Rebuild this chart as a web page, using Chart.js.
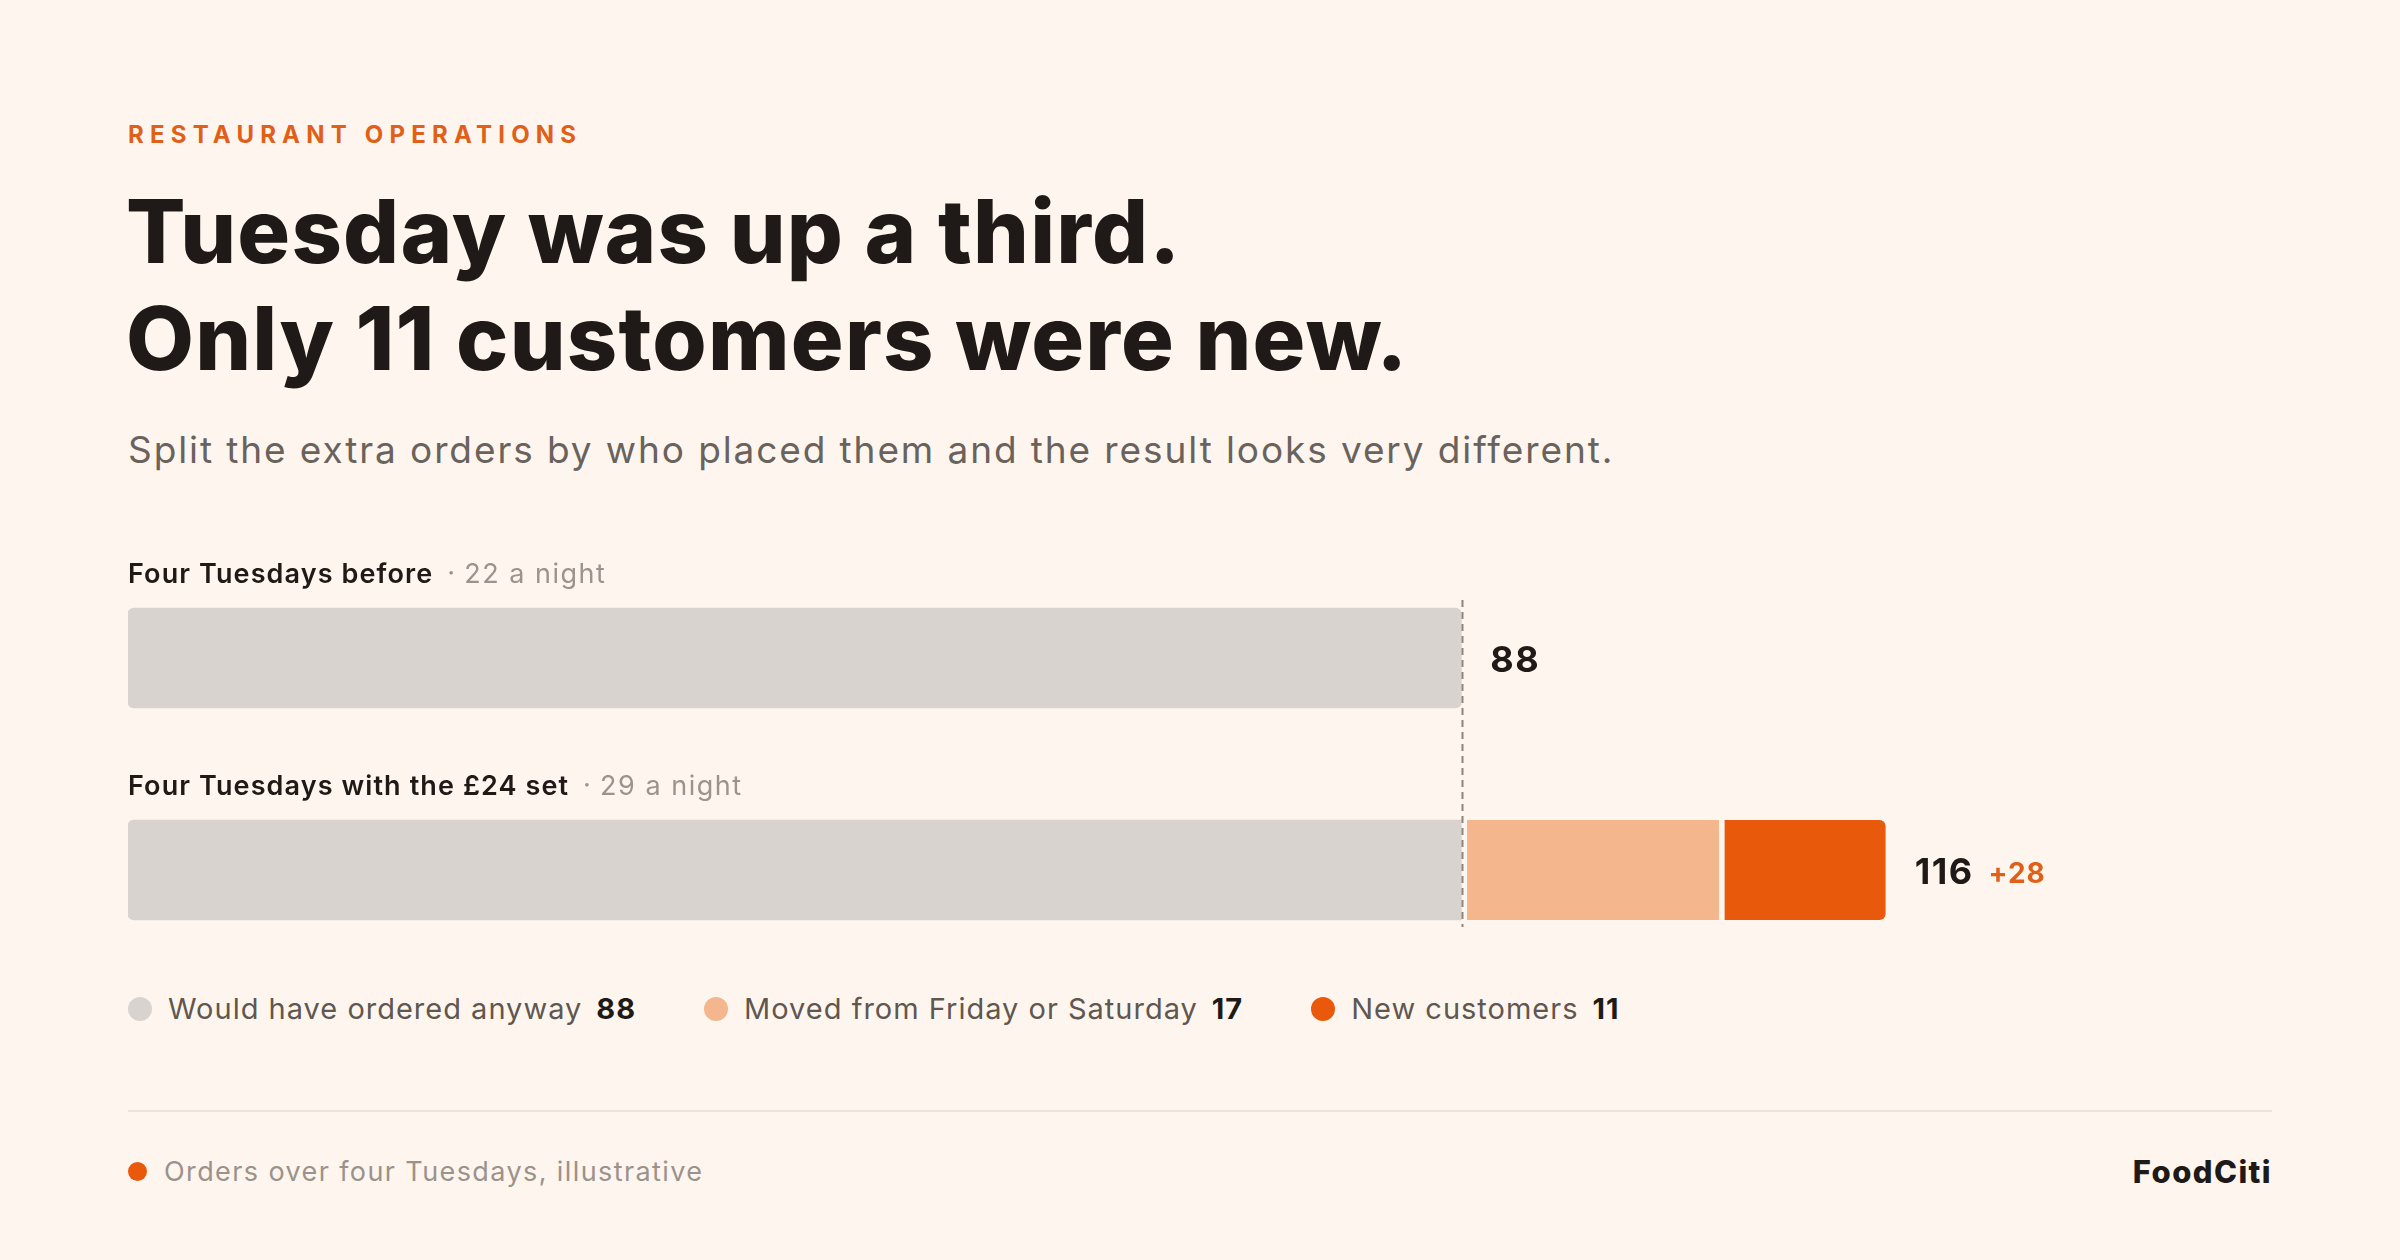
<!DOCTYPE html>
<html>
<head>
<meta charset="utf-8">
<script src="https://cdn.jsdelivr.net/npm/chart.js@4.4.1/dist/chart.umd.min.js"></script>
<style>
  html, body { margin: 0; padding: 0; }
  body {
    width: 2400px; height: 1260px; position: relative; overflow: hidden;
    background: #fef6ee; font-family: Inter, "Noto Sans", sans-serif; color: #1f1a17;
  }
  .kicker {
    position: absolute; left: 128px; top: 120px;
    font-size: 24px; font-weight: 700; letter-spacing: 6.2px; color: #e0601a;
  }
  h1 {
    position: absolute; left: 126px; top: 178px; margin: 0;
    font-size: 88px; font-weight: 800; line-height: 107px; letter-spacing: 1.2px;
  }
  .sub {
    position: absolute; left: 128px; top: 427px;
    font-size: 37px; font-weight: 400; color: #6a625c; letter-spacing: 1.9px;
  }
  #wrap { position: absolute; left: 128px; top: 552px; width: 2144px; height: 424px; }
  #legend {
    position: absolute; left: 128px; top: 991px; display: flex; align-items: center;
    font-size: 29px; color: #5f5750; letter-spacing: 1px;
  }
  .item { display: flex; align-items: center; margin-right: 68px; }
  .dot { width: 24px; height: 24px; border-radius: 50%; margin-right: 16px; }
  .item b { color: #1f1a17; font-weight: 700; margin-left: 14px; }
  .rule { position: absolute; left: 128px; top: 1110px; width: 2144px; height: 2px; background: #ece3da; }
  .foot {
    position: absolute; left: 128px; top: 1155px; display: flex; align-items: center;
    font-size: 27px; color: #9b928b; letter-spacing: 1.4px;
  }
  .foot .dot { width: 19px; height: 19px; margin-right: 17px; background: #e8590c; }
  .brand {
    position: absolute; right: 128px; top: 1153px;
    font-size: 31px; font-weight: 800; color: #1f1a17; letter-spacing: 1.4px;
  }
</style>
</head>
<body>
<div class="kicker">RESTAURANT OPERATIONS</div>
<h1>Tuesday was up a third.<br>Only 11 customers were new.</h1>
<div class="sub">Split the extra orders by who placed them and the result looks very different.</div>
<div id="wrap"><canvas id="chart"></canvas></div>
<div id="legend"></div>
<div class="rule"></div>
<div class="foot"><span class="dot"></span>Orders over four Tuesdays, illustrative</div>
<div class="brand">FoodCiti</div>

<script>
// data
const rows = ['Four Tuesdays before', 'Four Tuesdays with the £24 set'];
const perNight = [22, 29];
const anyway = [88, 88];
const moved = [null, 17];
const newCustomers = [null, 11];
const seriesNames = ['Would have ordered anyway', 'Moved from Friday or Saturday', 'New customers'];
const colors = ['#d8d3cf', '#f3b68d', '#e8590c'];
const BG = '#fef6ee';

// legend built from the same arrays
const legendValues = [anyway[1], moved[1], newCustomers[1]];
document.getElementById('legend').innerHTML = seriesNames.map((n, i) =>
  `<span class="item"><span class="dot" style="background:${colors[i]}"></span>${n}<b>${legendValues[i]}</b></span>`
).join('');

const total = i => (anyway[i] || 0) + (moved[i] || 0) + (newCustomers[i] || 0);

// row labels, totals and the dashed "before" line
const annotate = {
  id: 'annotate',
  afterDatasetsDraw(chart) {
    const { ctx, scales: { x, y } } = chart;
    const half = 50;
    ctx.save();
    rows.forEach((r, i) => {
      const cy = y.getPixelForValue(i);
      // label above bar
      ctx.textBaseline = 'alphabetic';
      ctx.textAlign = 'left';
      ctx.letterSpacing = '1.1px';
      ctx.font = '600 27px Inter';
      ctx.fillStyle = '#1f1a17';
      const ly = cy - half - 25;
      ctx.fillText(r, x.left, ly);
      let lx = x.left + ctx.measureText(r).width;
      ctx.letterSpacing = '1.5px';
      ctx.font = '400 27px Inter';
      ctx.fillStyle = '#9b938c';
      ctx.fillText('·', lx + 14, ly - 1);
      ctx.fillText(perNight[i] + ' a night', lx + 31, ly);

      // total at bar end
      const t = total(i);
      const tx = x.getPixelForValue(t) + 29;
      ctx.textBaseline = 'middle';
      ctx.letterSpacing = '1.5px';
      ctx.font = '700 36px Inter';
      ctx.fillStyle = '#1f1a17';
      ctx.fillText(String(t), tx, cy + 3);
      if (i > 0) {
        const w = ctx.measureText(String(t)).width;
        ctx.letterSpacing = '1px';
        ctx.font = '700 28px Inter';
        ctx.fillStyle = '#e0601a';
        ctx.fillText('+' + (t - total(0)), tx + w + 15, cy + 5);
      }
    });
    // dashed reference at the earlier total
    const rx = Math.round(x.getPixelForValue(total(0))) + 1.5;
    ctx.strokeStyle = '#8c857f';
    ctx.lineWidth = 2;
    ctx.setLineDash([7, 5]);
    ctx.beginPath();
    ctx.moveTo(rx, y.getPixelForValue(0) - half - 8);
    ctx.lineTo(rx, y.getPixelForValue(rows.length - 1) + half + 7);
    ctx.stroke();
    ctx.restore();
  }
};

const R = 6;
new Chart(document.getElementById('chart'), {
  type: 'bar',
  data: {
    labels: rows,
    datasets: [
      {
        label: seriesNames[0], data: anyway, backgroundColor: colors[0],
        borderWidth: 0,
        borderRadius: c => c.dataIndex === 0
          ? { topLeft: R, bottomLeft: R, topRight: R, bottomRight: R }
          : { topLeft: R, bottomLeft: R, topRight: 0, bottomRight: 0 }
      },
      {
        label: seriesNames[1], data: moved, backgroundColor: colors[1],
        borderColor: BG, borderWidth: { left: 6, top: 0, right: 0, bottom: 0 },
        borderRadius: { topLeft: 0, bottomLeft: 0, topRight: 0, bottomRight: 0 }
      },
      {
        label: seriesNames[2], data: newCustomers, backgroundColor: colors[2],
        borderColor: BG, borderWidth: { left: 6, top: 0, right: 0, bottom: 0 },
        borderRadius: { topLeft: 0, bottomLeft: 0, topRight: R, bottomRight: R }
      }
    ]
  },
  options: {
    indexAxis: 'y',
    responsive: true,
    maintainAspectRatio: false,
    animation: false,
    events: [],
    layout: { padding: 0 },
    datasets: { bar: { barThickness: 100, borderSkipped: false } },
    plugins: { legend: { display: false }, tooltip: { enabled: false } },
    scales: {
      x: { stacked: true, min: 0, max: 141.5, display: false },
      y: { stacked: true, display: false }
    }
  },
  plugins: [annotate]
});
</script>
</body>
</html>
